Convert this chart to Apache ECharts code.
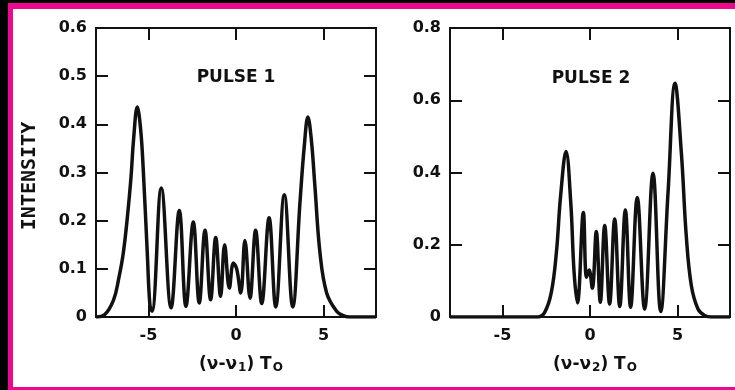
<!DOCTYPE html>
<html>
<head>
<meta charset="utf-8">
<script src="https://cdn.jsdelivr.net/npm/echarts@6/dist/echarts.min.js"></script>
<style>
  html, body { margin: 0; padding: 0; background: #000; }
  body { width: 735px; height: 390px; position: relative; overflow: hidden; }
  .frame {
    position: absolute; left: 8px; top: 3px; width: 740px; height: 378px;
    background: #fff;
    border-left: 5px solid #ec098d; border-top: 6px solid #ec098d; border-bottom: 3px solid #ec098d;
  }
  #chart { position: absolute; left: 0; top: 0; width: 735px; height: 390px; }
</style>
</head>
<body>
<div class="frame"></div>
<div id="chart"></div>
<script>
// pulse 1 spectrum
const pulse1X = [-8, -7.5, -7.0, -6.7, -6.44, -6.2, -6.0, -5.85, -5.64, -5.45, -5.3, -5.07, -4.92, -4.8,
  -4.27, -3.71, -3.24, -2.86, -2.44, -2.10, -1.77, -1.45, -1.16, -0.88, -0.65, -0.38, -0.15, 0.04, 0.27,
  0.51, 0.80, 1.12, 1.47, 1.89, 2.27, 2.76, 3.24, 3.66, 3.9, 4.11, 4.3, 4.51, 4.8, 5.18, 5.75, 6.13, 6.5, 8]
const pulse1Y = [0, 0.005, 0.035, 0.08, 0.133, 0.21, 0.29, 0.37, 0.436, 0.39, 0.306, 0.133, 0.025, 0.012,
  0.268, 0.019, 0.221, 0.022, 0.197, 0.029, 0.18, 0.036, 0.165, 0.043, 0.150, 0.060, 0.112, 0.10, 0.050,
  0.159, 0.039, 0.180, 0.028, 0.206, 0.021, 0.254, 0.021, 0.24, 0.354, 0.415, 0.37, 0.271, 0.133, 0.05, 0.012, 0.003, 0, 0]

// pulse 2 spectrum
const pulse2X = [-8, -3.0, -2.59, -2.21, -1.92, -1.68, -1.37, -1.10, -0.91, -0.72, -0.38, -0.2, -0.05, 0.13,
  0.36, 0.59, 0.84, 1.12, 1.41, 1.70, 2.02, 2.32, 2.70, 3.12, 3.60, 4.04, 4.46, 4.86, 5.22, 5.5, 5.79,
  6.17, 6.55, 6.93, 8]
const pulse2Y = [0, 0, 0.013, 0.068, 0.179, 0.335, 0.458, 0.317, 0.124, 0.039, 0.289, 0.11, 0.13, 0.08,
  0.237, 0.041, 0.253, 0.036, 0.271, 0.029, 0.296, 0.027, 0.331, 0.022, 0.398, 0.015, 0.345, 0.647, 0.455,
  0.225, 0.087, 0.022, 0.004, 0, 0]

const xTicks = [-5, 0, 5]
const titles = ['PULSE 1', 'PULSE 2']
const subscripts = ['1', '2']
const yMax = [0.6, 0.8]
const yStep = [0.1, 0.2]

const numFont = 'DejaVu Sans'

function pairs(xs, ys) {
  return xs.map((x, i) => [x, ys[i]])
}

function xAxes(gridIndex) {
  const base = {
    gridIndex: gridIndex,
    type: 'value',
    min: -8,
    max: 8,
    axisLine: { onZero: false, lineStyle: { color: '#111', width: 2 } },
    axisTick: { inside: true, length: 12, customValues: xTicks, lineStyle: { color: '#111', width: 2 } },
    splitLine: { show: false }
  }
  return [
    {
      ...base,
      position: 'bottom',
      axisLabel: { customValues: xTicks, margin: 11, color: '#111', fontFamily: numFont, fontSize: 16,
        fontWeight: 'bold', formatter: v => (v < 0 ? '-' + Math.abs(v) : String(v)) },
      name: '{a|(\u03bd-\u03bd}{s|' + subscripts[gridIndex] + '}{a|) T}{s|O}',
      nameLocation: 'middle',
      nameGap: 38,
      nameTextStyle: {
        padding: [0, 0, 0, 10],
        rich: {
          a: { fontFamily: numFont, fontSize: 17, fontWeight: 'bold', color: '#111' },
          s: { fontFamily: numFont, fontSize: 12, fontWeight: 'bold', color: '#111', padding: [7, 0, 0, 1] }
        }
      }
    },
    { ...base, position: 'top', axisLabel: { show: false } }
  ]
}

function yAxes(gridIndex) {
  const base = {
    gridIndex: gridIndex,
    type: 'value',
    min: 0,
    max: yMax[gridIndex],
    interval: yStep[gridIndex],
    axisLine: { onZero: false, lineStyle: { color: '#111', width: 2 } },
    axisTick: { inside: true, length: 12, lineStyle: { color: '#111', width: 2 } },
    splitLine: { show: false }
  }
  return [
    {
      ...base,
      position: 'left',
      axisLabel: { margin: 9, color: '#111', fontFamily: numFont, fontSize: 16, fontWeight: 'bold',
        formatter: v => (v === 0 ? '0' : v.toFixed(1)) }
    },
    { ...base, position: 'right', axisLabel: { show: false } }
  ]
}

const chart = echarts.init(document.getElementById('chart'), null, { renderer: 'canvas' })
chart.setOption({
  backgroundColor: 'transparent',
  animation: false,
  grid: [
    { left: 96, top: 28, width: 280, height: 289 },
    { left: 450, top: 28, width: 280, height: 289 }
  ],
  xAxis: [...xAxes(0), ...xAxes(1)],
  yAxis: [...yAxes(0), ...yAxes(1)],
  graphic: [
    {
      type: 'text', x: 236, y: 78,
      style: { text: titles[0], align: 'center', verticalAlign: 'middle', fill: '#111',
        font: 'bold 17px "DejaVu Sans"' }
    },
    {
      type: 'text', x: 591, y: 79,
      style: { text: titles[1], align: 'center', verticalAlign: 'middle', fill: '#111',
        font: 'bold 17px "DejaVu Sans"' }
    },
    {
      type: 'text', x: 30, y: 176, rotation: Math.PI / 2,
      style: { text: 'INTENSITY', align: 'center', verticalAlign: 'middle', fill: '#111',
        font: 'bold 20px "DejaVu Sans Mono"' }
    }
  ],
  series: [
    {
      type: 'line', xAxisIndex: 0, yAxisIndex: 0,
      data: pairs(pulse1X, pulse1Y),
      showSymbol: false, smooth: 0.4,
      lineStyle: { color: '#111', width: 3.5 }
    },
    {
      type: 'line', xAxisIndex: 2, yAxisIndex: 2,
      data: pairs(pulse2X, pulse2Y),
      showSymbol: false, smooth: 0.4,
      lineStyle: { color: '#111', width: 3.5 }
    }
  ]
})
</script>
</body>
</html>
